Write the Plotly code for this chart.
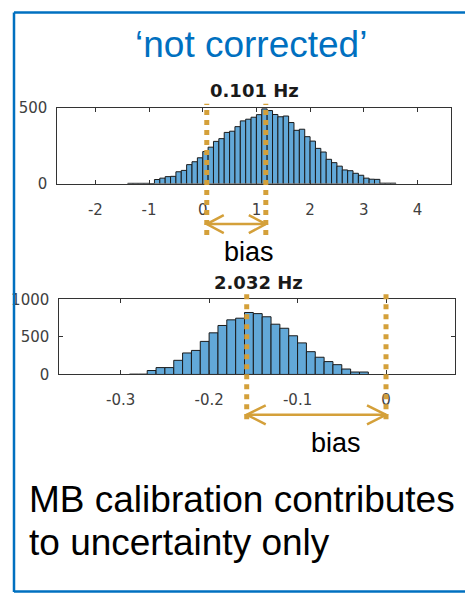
import plotly.graph_objects as go

W, H = 465, 602

# ---------------- data ----------------
TOP_BIN_START = -1.4
TOP_BIN_WIDTH = 0.1
TOP_COUNTS = [2, 2, 2, 2, 0,
              27, 36, 46, 48, 78, 87, 125, 144, 170,
              211, 240, 278, 296, 337, 345, 375, 413, 424, 437,
              454, 492, 481, 455, 440, 445, 402, 351, 358, 309,
              280, 232, 208, 160, 138, 115, 90, 85, 68, 55,
              36, 29, 28, 3, 3, 3]
TOP_TITLE = "0.101 Hz"
TOP_XTICKS = [-2, -1, 0, 1, 2, 3, 4]
TOP_XTICK_LABELS = ["-2", "-1", "0", "1", "2", "3", "4"]
TOP_YTICKS = [0, 500]
TOP_YTICK_LABELS = ["0", "500"]
TOP_XRANGE = [-2.71, 4.62]
TOP_YRANGE = [0, 500]
TOP_BIAS = [0.075, 1.175]

BOT_BIN_START = -0.29
BOT_BIN_WIDTH = 0.01
BOT_COUNTS = [4, 4, 52, 91, 91, 188, 286, 320, 440, 554, 652, 727, 749,
              825, 810, 768, 669, 615, 515, 420, 303, 229, 171, 130, 72, 32, 32]
BOT_TITLE = "2.032 Hz"
BOT_XTICKS = [-0.3, -0.2, -0.1, 0]
BOT_XTICK_LABELS = ["-0.3", "-0.2", "-0.1", "0"]
BOT_YTICKS = [0, 500, 1000]
BOT_YTICK_LABELS = ["0", "500", "1000"]
BOT_XRANGE = [-0.3694, 0.078]
BOT_YRANGE = [0, 1000]
BOT_BIAS = [-0.1575, 0.0]

HEADER = "\u2018not corrected\u2019"
BIAS_LABEL = "bias"
FOOT_LINES = ["MB calibration contributes", "to uncertainty only"]

# ---------------- styles ----------------
BAR_FILL = "#62a8d8"
BAR_EDGE = "#1a1a1a"
GOLD = "#d4a03a"
BLUE = "#0070c0"
AX_COL = "#333333"


def px(x):
    return x / W


def py(y):
    return 1 - y / H


def centers(start, width, n):
    return [round(start + width * (i + 0.5), 6) for i in range(n)]


fig = go.Figure()
fig.add_trace(go.Bar(
    x=centers(TOP_BIN_START, TOP_BIN_WIDTH, len(TOP_COUNTS)), y=TOP_COUNTS,
    width=TOP_BIN_WIDTH, marker=dict(color=BAR_FILL, line=dict(color=BAR_EDGE, width=1)),
    xaxis="x", yaxis="y", showlegend=False, hoverinfo="x+y"))
fig.add_trace(go.Bar(
    x=centers(BOT_BIN_START, BOT_BIN_WIDTH, len(BOT_COUNTS)), y=BOT_COUNTS,
    width=BOT_BIN_WIDTH, marker=dict(color=BAR_FILL, line=dict(color=BAR_EDGE, width=1)),
    xaxis="x2", yaxis="y2", showlegend=False, hoverinfo="x+y"))

tickfont = dict(family="DejaVu Sans", size=15, color="#404040")
common = dict(showline=True, linecolor=AX_COL, linewidth=1, mirror="ticks",
              ticks="inside", ticklen=4, tickcolor=AX_COL, tickwidth=1,
              showgrid=False, zeroline=False, tickfont=tickfont, fixedrange=True)

fig.update_layout(
    width=W, height=H, margin=dict(l=0, r=0, t=0, b=0),
    paper_bgcolor="white", plot_bgcolor="white", barmode="overlay",
    xaxis=dict(domain=[px(57.3), px(450.7)], range=TOP_XRANGE, anchor="y",
               tickmode="array", tickvals=TOP_XTICKS, ticktext=TOP_XTICK_LABELS,
               ticklabelstandoff=12, **common),
    yaxis=dict(domain=[py(180), py(101.7)], range=TOP_YRANGE, anchor="x",
               tickmode="array", tickvals=TOP_YTICKS, ticktext=TOP_YTICK_LABELS,
               ticklabelstandoff=6, **common),
    xaxis2=dict(domain=[px(59.3), px(455)], range=BOT_XRANGE, anchor="y2",
                tickmode="array", tickvals=BOT_XTICKS, ticktext=BOT_XTICK_LABELS,
                ticklabelstandoff=12, **common),
    yaxis2=dict(domain=[py(376.7), py(299.3)], range=BOT_YRANGE, anchor="x2",
                tickmode="array", tickvals=BOT_YTICKS, ticktext=BOT_YTICK_LABELS,
                ticklabelstandoff=6, **common),
)

shapes = []
# bias markers: dotted vertical lines
for xv in TOP_BIAS:
    shapes.append(dict(type="line", xref="x", yref="paper", x0=xv, x1=xv,
                       y0=py(233), y1=py(97.7),
                       line=dict(color=GOLD, width=5, dash="5px,5px")))
for xv in BOT_BIAS:
    shapes.append(dict(type="line", xref="x2", yref="paper", x0=xv, x1=xv,
                       y0=py(423), y1=py(289),
                       line=dict(color=GOLD, width=5, dash="5px,5px")))


def double_arrow(xref, xa, xb, ypix, arm_x, arm_y):
    out = [dict(type="line", xref=xref, yref="paper", x0=xa, x1=xb,
                y0=py(ypix), y1=py(ypix), line=dict(color=GOLD, width=2.5))]
    out.append(dict(type="path", xref=xref, yref="paper", xsizemode="pixel", ysizemode="pixel",
                    xanchor=xa, yanchor=py(ypix),
                    path=f"M {arm_x},{arm_y} L 0,0 L {arm_x},{-arm_y}",
                    line=dict(color=GOLD, width=2.5)))
    out.append(dict(type="path", xref=xref, yref="paper", xsizemode="pixel", ysizemode="pixel",
                    xanchor=xb, yanchor=py(ypix),
                    path=f"M {-arm_x},{arm_y} L 0,0 L {-arm_x},{-arm_y}",
                    line=dict(color=GOLD, width=2.5)))
    return out


shapes += double_arrow("x", TOP_BIAS[0], TOP_BIAS[1], 221.7, 17, 9)
shapes += double_arrow("x2", BOT_BIAS[0], BOT_BIAS[1], 418.3, 19, 9.5)

# blue frame
shapes.append(dict(type="line", xref="paper", yref="paper", x0=px(14), x1=px(14),
                   y0=py(601), y1=py(3.5), line=dict(color=BLUE, width=2.5)))
shapes.append(dict(type="line", xref="paper", yref="paper", x0=px(14), x1=1,
                   y0=py(3.5), y1=py(3.5), line=dict(color=BLUE, width=2.5)))
shapes.append(dict(type="line", xref="paper", yref="paper", x0=px(14), x1=1,
                   y0=py(600.5), y1=py(600.5), line=dict(color=BLUE, width=2.5)))
fig.update_layout(shapes=shapes)

ann = []


def text(t, x, y, size, color="black", family="Liberation Sans", xanchor="center", bold=False):
    if bold:
        t = f"<b>{t}</b>"
    ann.append(dict(text=t, x=px(x), y=py(y), xref="paper", yref="paper",
                    xanchor=xanchor, yanchor="middle", showarrow=False,
                    font=dict(family=family, size=size, color=color)))


text(HEADER, 251, 36.4, 37, color=BLUE)
text(TOP_TITLE, 254, 83.8, 18, color="#1a1a1a", family="DejaVu Sans", bold=True)
text(BOT_TITLE, 258, 282, 18, color="#1a1a1a", family="DejaVu Sans", bold=True)
text(BIAS_LABEL, 249, 250.5, 27)
text(BIAS_LABEL, 336, 447, 27)
text(FOOT_LINES[0], 27, 506, 37, xanchor="left")
text(FOOT_LINES[1], 27, 550.3, 37, xanchor="left")
fig.update_layout(annotations=ann)

fig.write_html("out.html")
